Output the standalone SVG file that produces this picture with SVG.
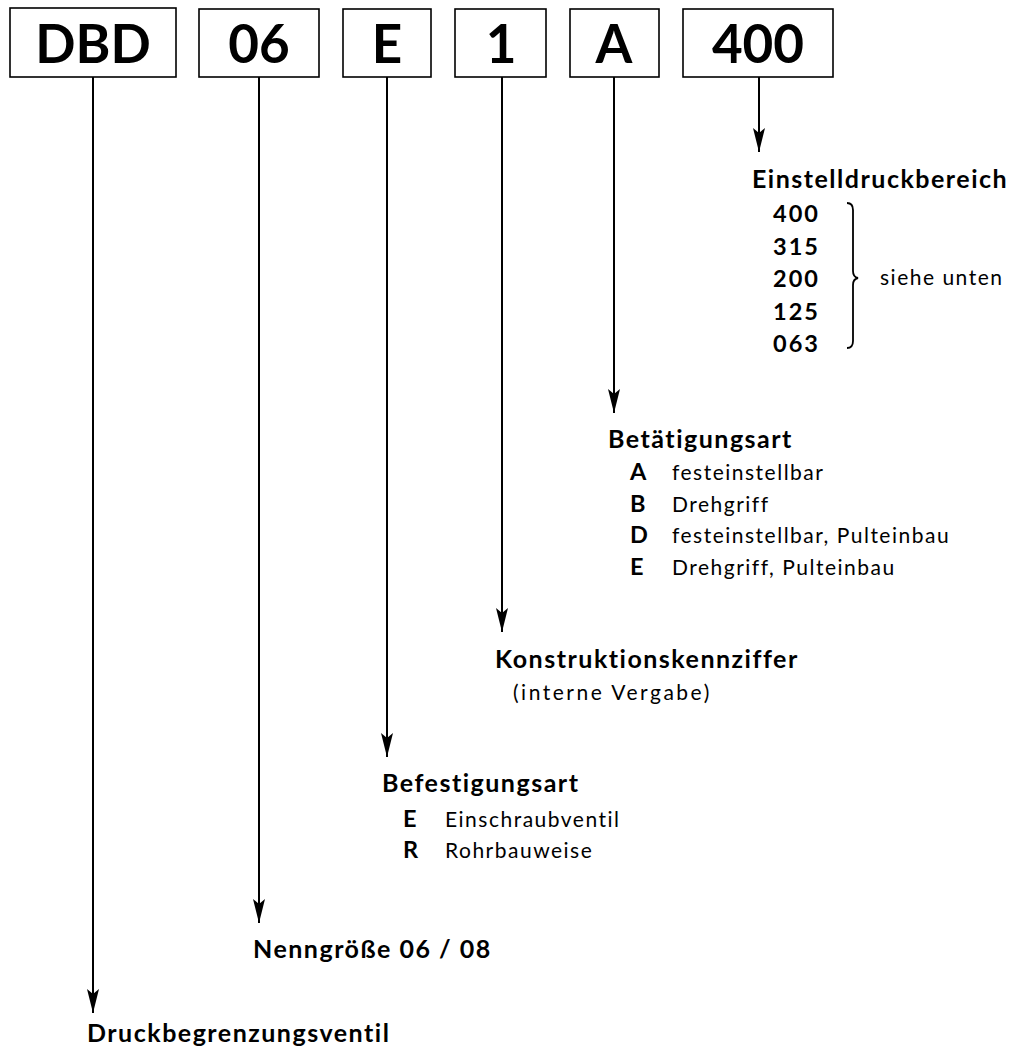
<svg xmlns="http://www.w3.org/2000/svg" width="1011" height="1056" viewBox="0 0 1011 1056">
<style>
.box{fill:#fff;stroke:#000;stroke-width:1.6}
.code{font-family:Lato,"Noto Sans",sans-serif;font-weight:700;font-size:53px;text-anchor:middle;fill:#000}
.h{font-family:Lato,"Noto Sans",sans-serif;font-weight:700;font-size:25px;letter-spacing:1.5px;fill:#000}
.k{font-family:Lato,"Noto Sans",sans-serif;font-weight:700;font-size:23.5px;letter-spacing:2px;fill:#000}
.t{font-family:Lato,"Noto Sans",sans-serif;font-weight:400;font-size:21px;letter-spacing:1.5px;fill:#000}
.ln{stroke:#000;stroke-width:2;fill:none}
</style>
<defs>
<marker id="ah" markerWidth="24" markerHeight="12" refX="24" refY="6" orient="auto" markerUnits="userSpaceOnUse" viewBox="0 0 24 12">
<path d="M0,0 L24,6 L0,12 L5,6 Z" fill="#000"/>
</marker>
</defs>
<g id="n-dbd"><rect class="box" x="10" y="8" width="166" height="69"/><text class="code" x="93" y="63">DBD</text></g>
<g id="n-06"><rect class="box" x="199" y="9" width="120" height="68"/><text class="code" x="259" y="63">06</text></g>
<g id="n-e"><rect class="box" x="343" y="9" width="88" height="68"/><text class="code" x="387" y="63">E</text></g>
<g id="n-1"><rect class="box" x="455" y="9" width="91" height="68"/><text class="code" x="501" y="63">1</text></g>
<g id="n-a"><rect class="box" x="570" y="9" width="89" height="68"/><text class="code" x="614" y="63">A</text></g>
<g id="n-400"><rect class="box" x="683" y="9" width="150" height="68"/><text class="code" x="758" y="63">400</text></g>
<g id="connectors">
<line class="ln" x1="93" y1="77" x2="93" y2="1013" marker-end="url(#ah)"/>
<line class="ln" x1="259" y1="77" x2="259" y2="923" marker-end="url(#ah)"/>
<line class="ln" x1="387" y1="77" x2="387" y2="757" marker-end="url(#ah)"/>
<line class="ln" x1="502" y1="77" x2="502" y2="632" marker-end="url(#ah)"/>
<line class="ln" x1="614" y1="77" x2="614" y2="413" marker-end="url(#ah)"/>
<line class="ln" x1="759" y1="77" x2="759" y2="152" marker-end="url(#ah)"/>
</g>
<g id="l-einstell">
<text class="h" x="752" y="188">Einstelldruckbereich</text>
<text class="k" x="773" y="222">400</text>
<text class="k" x="773" y="255">315</text>
<text class="k" x="773" y="287">200</text>
<text class="k" x="773" y="320">125</text>
<text class="k" x="773" y="352">063</text>
<path d="M847,203 Q853,203 853,210 L853,271 Q853,277 858,278 Q853,279 853,285 L853,341 Q853,348 847,348" fill="none" stroke="#000" stroke-width="1.8"/>
<text class="t" x="880" y="285">siehe unten</text>
</g>
<g id="l-betaetigung">
<text class="h" x="608" y="448">Betätigungsart</text>
<text class="k" x="630" y="480">A</text><text class="t" x="672" y="480">festeinstellbar</text>
<text class="k" x="630" y="512">B</text><text class="t" x="672" y="512">Drehgriff</text>
<text class="k" x="630" y="543">D</text><text class="t" x="672" y="543">festeinstellbar, Pulteinbau</text>
<text class="k" x="630" y="575">E</text><text class="t" x="672" y="575">Drehgriff, Pulteinbau</text>
</g>
<g id="l-konstruktion">
<text class="h" x="495" y="668">Konstruktionskennziffer</text>
<text class="t" x="513" y="700" style="letter-spacing:2.5px">(interne Vergabe)</text>
</g>
<g id="l-befestigung">
<text class="h" x="382" y="792">Befestigungsart</text>
<text class="k" x="403" y="827">E</text><text class="t" x="445" y="827">Einschraubventil</text>
<text class="k" x="403" y="858">R</text><text class="t" x="445" y="858">Rohrbauweise</text>
</g>
<g id="l-nenn"><text class="h" x="253" y="958">Nenngröße 06 / 08</text></g>
<g id="l-druck"><text class="h" x="87" y="1042">Druckbegrenzungsventil</text></g>
</svg>
